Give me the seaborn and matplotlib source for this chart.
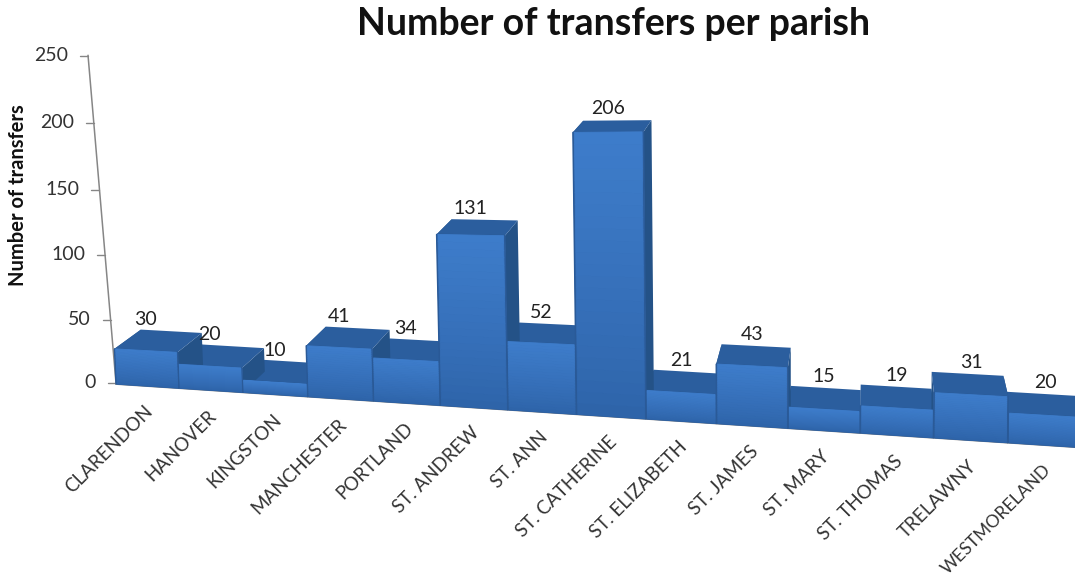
import numpy as np
import pandas as pd
import seaborn as sns
import matplotlib.pyplot as plt
from matplotlib.collections import PolyCollection
from matplotlib.patches import Polygon
from matplotlib.transforms import Affine2D, IdentityTransform, Transform

parishes = ["CLARENDON", "HANOVER", "KINGSTON", "MANCHESTER", "PORTLAND", "ST. ANDREW", "ST. ANN",
            "ST. CATHERINE", "ST. ELIZABETH", "ST. JAMES", "ST. MARY", "ST. THOMAS", "TRELAWNY", "WESTMORELAND"]
transfers = [30, 20, 10, 41, 34, 131, 52, 206, 21, 43, 15, 19, 31, 20]
y_ticks = [0, 50, 100, 150, 200, 250]

sns.set_style("white")
plt.rcParams['font.family'] = ['Lato', 'DejaVu Sans']

W, H = 1075, 583
# where depth lines meet, in pixels from the bottom left
vp = np.array([870.0, H + 200.0])
depth = 0.035
C = 0.00752


def base_y(x):
    return 199 - 0.0658 * (x - 117)


# fake perspective: the floor slopes down and bars grow towards the right
class Tilt(Transform):
    input_dims = 2
    output_dims = 2

    def transform_non_affine(self, values):
        x, y = values[:, 0], values[:, 1]
        up = y - 200
        scale = 0.925 + 2.75e-4 * (x - 116)
        return np.column_stack([x + (x - 800) * up * 6e-5, base_y(x) + up * scale])


fig = plt.figure(figsize=(W / 100, H / 100), dpi=100)
ax = fig.add_axes([116 / W, 200 / H, 967 / W, 327.5 / H])

df = pd.DataFrame({"parish": parishes, "transfers": transfers})
sns.barplot(data=df, x="parish", y="transfers", color="#2a5a98", width=1, saturation=1,
            edgecolor="#2a5a98", linewidth=1, ax=ax)

# x widens a bit to the right, y stretches a bit to the top
ax.set_xscale("function", functions=(lambda e: (e + .5) * (1 + C * (e + .5)),
                                     lambda g: (-1 + np.sqrt(np.maximum(1 + 4 * C * g, 0))) / (2 * C) - .5))
ax.set_yscale("function", functions=(lambda v: 1.26 * v + 0.0002 * v ** 2,
                                     lambda g: (-1.26 + np.sqrt(np.maximum(1.26 ** 2 + 4 * 0.0002 * g, 0))) / (2 * 0.0002)))
ax.set_xlim(-0.5, 13.5)
ax.set_ylim(0, 250)
ax.set_xticks(range(len(parishes)))
ax.set_xticklabels(parishes, rotation=45, ha="right", va="top", rotation_mode="anchor", fontsize=13.5, color="#333333")
ax.set_yticks(y_ticks)
ax.tick_params(axis="x", length=0, pad=12)
ax.tick_params(axis="y", left=False, labelleft=False)
ax.set_xlabel("")
ax.set_ylabel("")
for name in ["top", "right", "bottom"]:
    ax.spines[name].set_visible(False)

fig.canvas.draw()
tr = ax.transData + Tilt()

# the y axis leans over, so ticks and spine share one shear
wall = Affine2D().translate(-116, -200).skew(np.arctan(-28 / 328), 0).translate(116, 200)
left = ax.spines["left"]
left.set_position(("outward", 0))
left.set_transform(left.get_transform() + wall)
left.set_color("#868686")
left.set_linewidth(1.1)

wall_tr = ax.transData + wall
for v in y_ticks:
    px, py = wall_tr.transform((-0.5, v))
    ax.plot([px - 8, px], [py, py], color="#868686", lw=1, transform=IdentityTransform(), clip_on=False)
    ax.text(px - 20, py, str(v), ha="right", va="center", fontsize=14, color="#333333",
            transform=IdentityTransform(), clip_on=False)
ax.set_xlim(-0.5, 13.5)
ax.set_ylim(0, 250)

for i, tick in enumerate(ax.xaxis.get_major_ticks()):
    cx = ax.transData.transform((i, 0))[0]
    tick.label1.set_transform(tick.label1.get_transform() + Affine2D().translate(-3, base_y(cx) - 200))
# longest label would run off the bottom edge
ax.xaxis.get_major_ticks()[-1].label1.set_fontsize(12.6)

ax.plot([-0.5, 13.5], [0, 0], color="#8c8c8c", lw=1.4, transform=tr, clip_on=False, zorder=1)

bars = list(ax.patches)
top_col, side_col = "#2b5e9e", "#245287"
grad_top = np.array([0x3e, 0x7d, 0xcb]) / 255
grad_bot = np.array([0x2e, 0x64, 0xa9]) / 255


def back(p):
    return p + depth * (vp - p)


order = np.argsort(transfers)
for rank, i in enumerate(order):
    bar = bars[i]
    x0, x1, h = bar.get_x(), bar.get_x() + bar.get_width(), bar.get_height()
    tl, tr_, bl, br = tr.transform([(x0, h), (x1, h), (x0, 0), (x1, 0)])
    z = 2 + rank * 0.01
    for a, b in [(bl, tl), (br, tr_)]:
        ax.add_patch(Polygon([a, b, back(b), back(a)], closed=True, color=side_col, lw=0,
                             transform=IdentityTransform(), clip_on=False, zorder=z))
    ax.add_patch(Polygon([tl, tr_, back(tr_), back(tl)], closed=True, color=top_col, lw=0,
                         transform=IdentityTransform(), clip_on=False, zorder=z + 0.005))

for bar in bars:
    bar.set_transform(tr)
    bar.set_clip_on(False)
    bar.set_zorder(3)
    # front face gradient, light at the top
    x0, x1, h = bar.get_x(), bar.get_x() + bar.get_width(), bar.get_height()
    levels = np.linspace(0, h, 25)
    strips = [[(x0 + .02, a), (x1 - .02, a), (x1 - .02, b), (x0 + .02, b)] for a, b in zip(levels[:-1], levels[1:])]
    cols = [grad_bot + (grad_top - grad_bot) * (a / h) ** 0.8 for a in levels[:-1]]
    ax.add_collection(PolyCollection(strips, facecolors=cols, edgecolors="face", linewidths=0.6, transform=tr,
                                     clip_on=False, zorder=3.1), autolim=False)

for bar, val in zip(bars, transfers):
    cx = bar.get_x() + bar.get_width() / 2
    front = tr.transform((cx, val))
    p = back(front)
    ax.text(front[0], p[1] + 3, str(val), transform=IdentityTransform(), ha="center", va="bottom", fontsize=14,
            color="#222222", clip_on=False, zorder=5)

fig.text(614 / W, 1 - 24 / H, "Number of transfers per parish", ha="center", va="center", fontsize=27,
         fontweight="bold", color="#111111")
fig.text(18 / W, 1 - 195 / H, "Number of transfers", rotation=90, ha="center", va="center", fontsize=14.5,
         fontweight="bold", color="#111111")

fig.savefig("out.png", dpi=100)
